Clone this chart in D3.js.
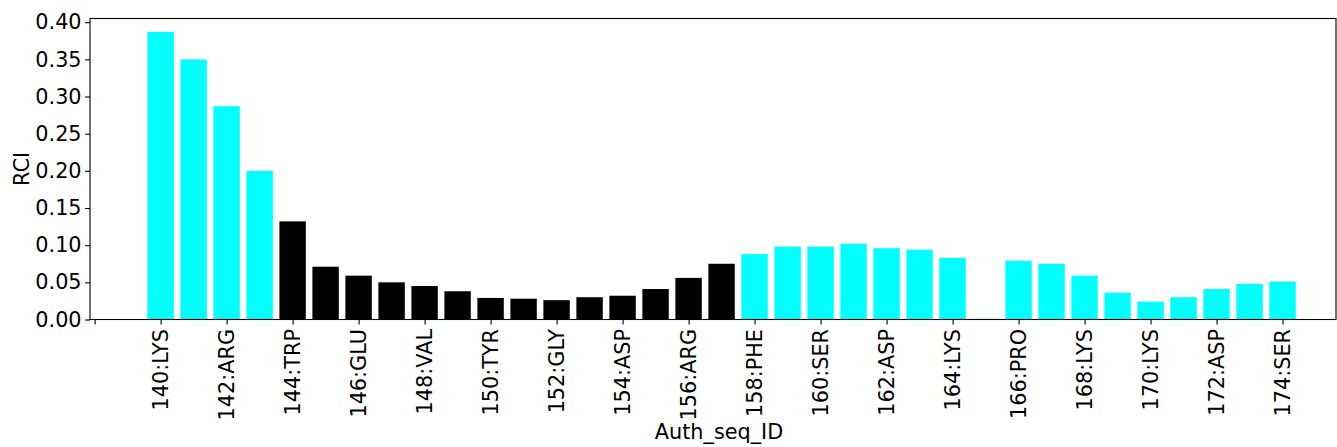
<!DOCTYPE html>
<html>
<head>
<meta charset="utf-8">
<script src="https://cdn.jsdelivr.net/npm/d3@7"></script>
<style>
  body { margin: 0; background: #fff; }
  svg { display: block; font-family: "DejaVu Sans", sans-serif; }
</style>
</head>
<body>
<div id="chart"></div>
<script>
// residue numbers and RCI values
const residues = [140, 141, 142, 143, 144, 145, 146, 147, 148, 149, 150, 151, 152, 153, 154, 155, 156,
                  157, 158, 159, 160, 161, 162, 163, 164, 165, 166, 167, 168, 169, 170, 171, 172, 173, 174];
const rci = [0.387, 0.350, 0.287, 0.200, 0.132, 0.071, 0.059, 0.050, 0.045, 0.038, 0.029, 0.028, 0.026,
             0.030, 0.032, 0.041, 0.056, 0.075, 0.088, 0.098, 0.098, 0.102, 0.096, 0.094, 0.083, 0.001,
             0.079, 0.075, 0.059, 0.036, 0.024, 0.030, 0.041, 0.048, 0.051];
// black = middle stretch, cyan elsewhere
const highlighted = [144, 145, 146, 147, 148, 149, 150, 151, 152, 153, 154, 155, 156, 157];

// x ticks every two residues, first one blank
const tickValues = [138, 140, 142, 144, 146, 148, 150, 152, 154, 156, 158, 160, 162, 164, 166, 168, 170, 172, 174];
const tickLabels = ["", "140:LYS", "142:ARG", "144:TRP", "146:GLU", "148:VAL", "150:TYR", "152:GLY", "154:ASP",
                    "156:ARG", "158:PHE", "160:SER", "162:ASP", "164:LYS", "166:PRO", "168:LYS", "170:LYS",
                    "172:ASP", "174:SER"];
const yTicks = [0, 0.05, 0.10, 0.15, 0.20, 0.25, 0.30, 0.35, 0.40];

const width = 1337, height = 447;
const margin = {top: 18.5, right: 1, bottom: 127.5, left: 90};
const fontSize = 20.8;

const svg = d3.select("#chart").append("svg")
    .attr("width", width)
    .attr("height", height);

const x = d3.scaleLinear()
    .domain([137.86, 175.62])
    .range([margin.left, width - margin.right]);

const y = d3.scaleLinear()
    .domain([0, 0.405])
    .range([height - margin.bottom, margin.top]);

const barW = x(140.4) - x(139.6);

// bars
svg.append("g")
  .selectAll("rect")
  .data(residues.map((r, i) => ({res: r, val: rci[i]})))
  .join("rect")
    .attr("x", d => x(d.res) - barW / 2)
    .attr("width", barW)
    .attr("y", d => y(d.val))
    .attr("height", d => y(0) - y(d.val))
    .attr("fill", d => highlighted.includes(d.res) ? "#000000" : "#00ffff");

// x axis
const xAxis = svg.append("g")
    .attr("transform", `translate(0,${y(0)})`)
    .call(d3.axisBottom(x)
        .tickValues(tickValues)
        .tickFormat((d, i) => tickLabels[i])
        .tickSize(4.9)
        .tickPadding(5));
xAxis.select(".domain").remove();
xAxis.selectAll("line").attr("stroke", "#000").attr("stroke-width", 1.1);
xAxis.selectAll("text")
    .attr("font-size", fontSize)
    .attr("font-family", "DejaVu Sans")
    .attr("fill", "#000")
    .attr("text-anchor", "end")
    .attr("dy", null)
    .attr("y", null)
    .attr("dominant-baseline", "central")
    .attr("transform", "translate(0,9.5) rotate(-90)");

// y axis
const yAxis = svg.append("g")
    .attr("transform", `translate(${margin.left},0)`)
    .call(d3.axisLeft(y)
        .tickValues(yTicks)
        .tickFormat(d3.format(".2f"))
        .tickSize(4.9)
        .tickPadding(3.5));
yAxis.select(".domain").remove();
yAxis.selectAll("line").attr("stroke", "#000").attr("stroke-width", 1.1);
yAxis.selectAll("text")
    .attr("font-size", fontSize)
    .attr("font-family", "DejaVu Sans")
    .attr("fill", "#000");

// frame
svg.append("rect")
    .attr("x", margin.left)
    .attr("y", margin.top)
    .attr("width", width - margin.right - margin.left)
    .attr("height", y(0) - margin.top)
    .attr("fill", "none")
    .attr("stroke", "#000")
    .attr("stroke-width", 1.1);

// axis titles
svg.append("text")
    .attr("x", (margin.left + width - margin.right) / 2 + 6)
    .attr("y", 439)
    .attr("text-anchor", "middle")
    .attr("font-size", fontSize)
    .text("Auth_seq_ID");

svg.append("text")
    .attr("transform", `translate(28.5,${(margin.top + y(0)) / 2}) rotate(-90)`)
    .attr("text-anchor", "middle")
    .attr("font-size", fontSize)
    .text("RCI");
</script>
</body>
</html>
